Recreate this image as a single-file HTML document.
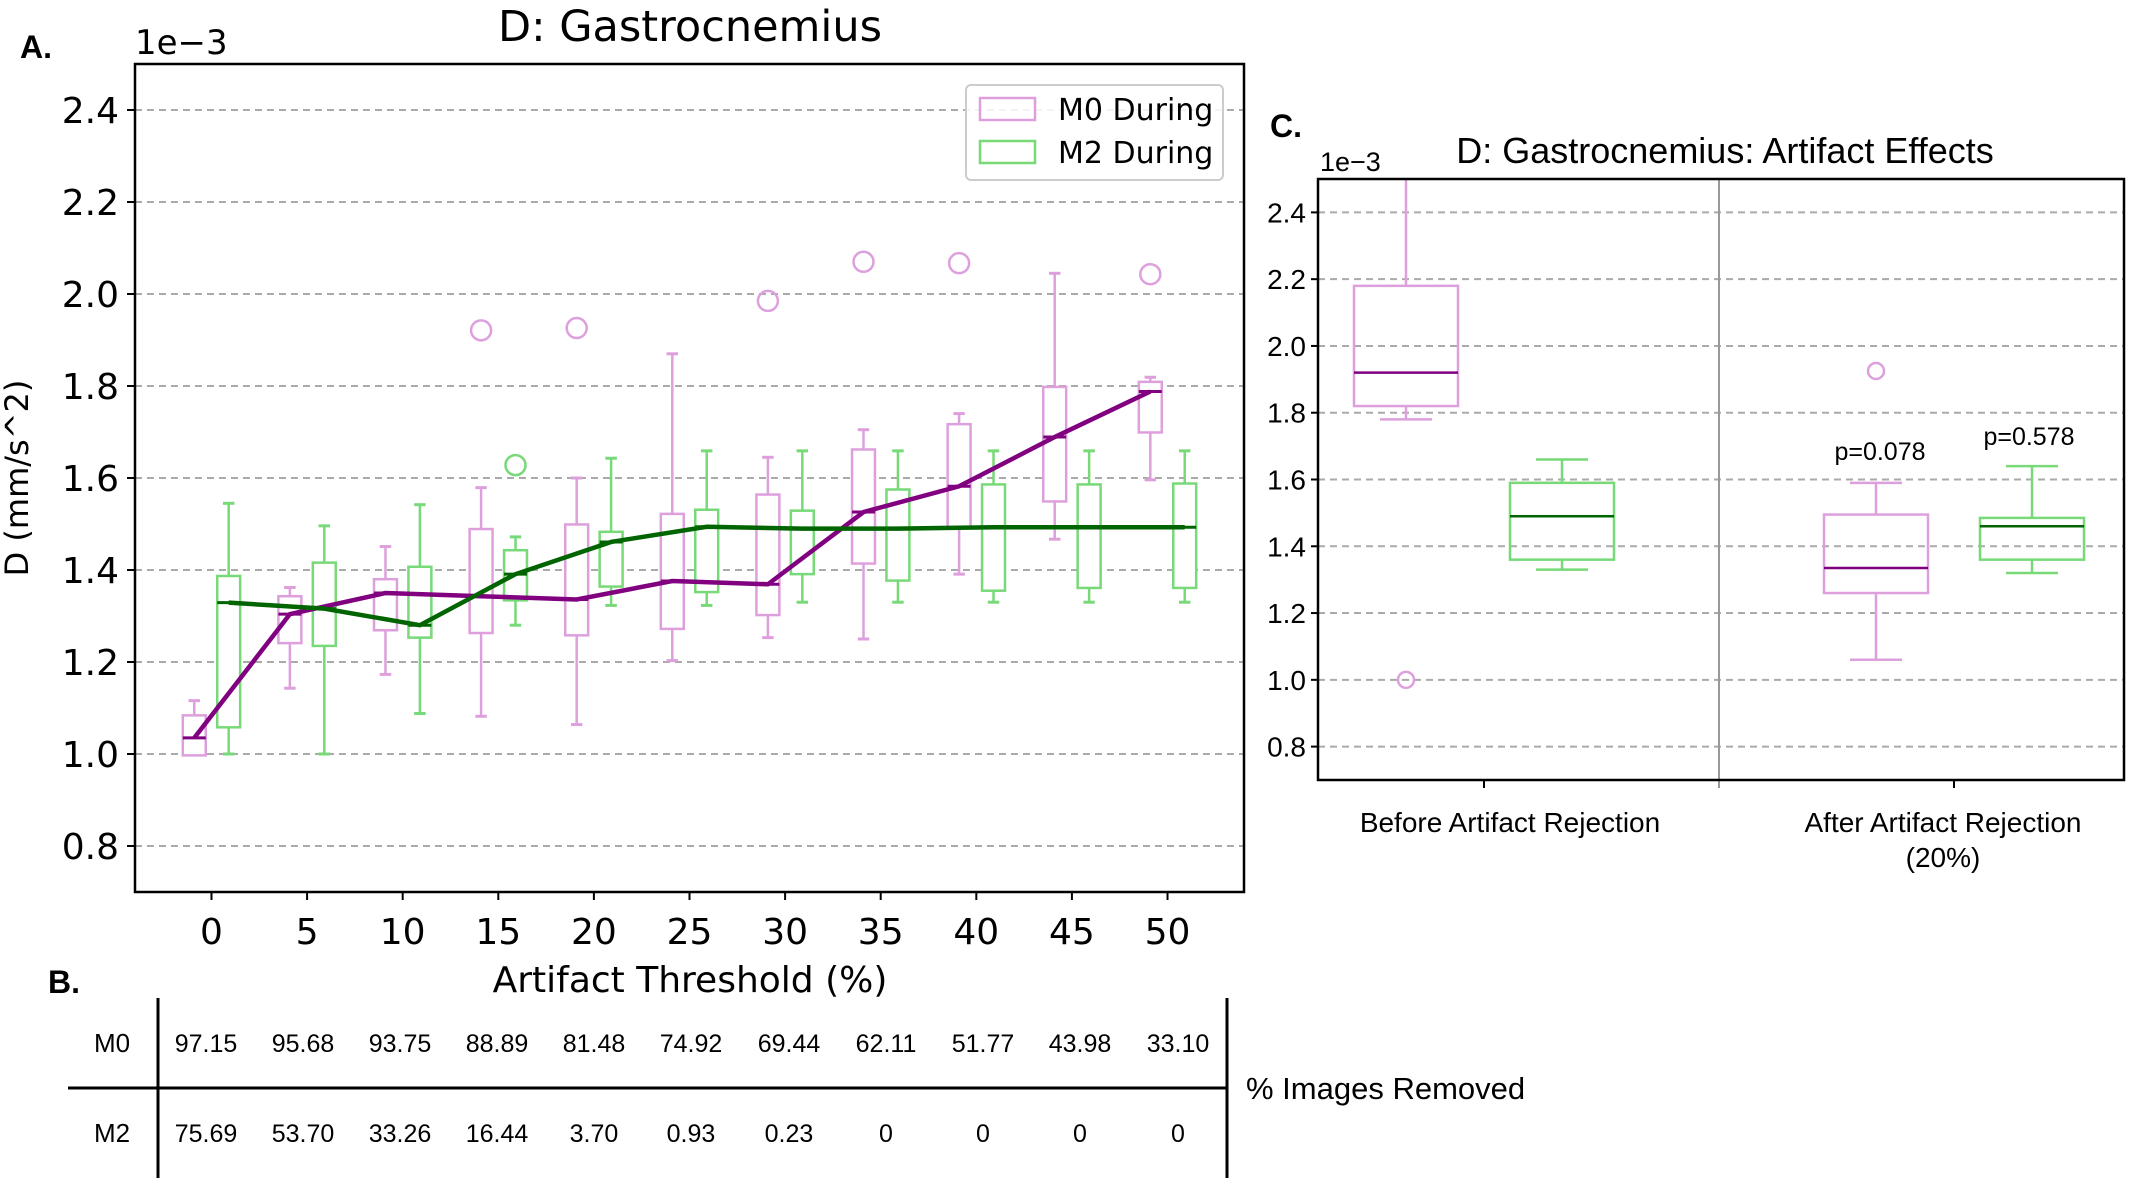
<!DOCTYPE html>
<html><head><meta charset="utf-8"><style>
html,body{margin:0;padding:0;background:#fff;}
svg{display:block;}
.dv{font-family:"DejaVu Sans",sans-serif;}
.ls{font-family:"Liberation Sans",sans-serif;}
</style></head><body>
<svg id="fig" width="2132" height="1186" viewBox="0 0 2132 1186" xmlns="http://www.w3.org/2000/svg">
<g id="pa"></g>
<g id="pc"></g>
<g id="pb"></g>
</svg>
<script>
// ---- Panel A data ----
const thresholds = [0,5,10,15,20,25,30,35,40,45,50];
const m0Low  = [1.0,1.143,1.173,1.082,1.064,1.203,1.253,1.25,1.391,1.467,1.596];
const m0Q1   = [0.997,1.241,1.269,1.263,1.258,1.272,1.302,1.414,1.492,1.549,1.699];
const m0Med  = [1.035,1.304,1.35,1.343,1.336,1.376,1.369,1.526,1.582,1.689,1.788];
const m0Q3   = [1.084,1.343,1.38,1.489,1.499,1.522,1.564,1.662,1.717,1.798,1.809];
const m0High = [1.116,1.362,1.451,1.579,1.6,1.870,1.645,1.705,1.74,2.045,1.819];
const m0OutX = [15,20,30,35,40,50];
const m0OutY = [1.921,1.926,1.985,2.07,2.067,2.043];
const m2Low  = [1.0,1.0,1.088,1.28,1.323,1.323,1.33,1.33,1.33,1.33,1.33];
const m2Q1   = [1.058,1.235,1.253,1.334,1.364,1.352,1.391,1.377,1.355,1.361,1.361];
const m2Med  = [1.329,1.316,1.28,1.391,1.461,1.494,1.49,1.49,1.493,1.493,1.493];
const m2Q3   = [1.387,1.416,1.407,1.443,1.483,1.531,1.529,1.575,1.586,1.586,1.588];
const m2High = [1.545,1.496,1.542,1.472,1.643,1.659,1.659,1.659,1.659,1.659,1.659];
const m2OutX = [15];
const m2OutY = [1.628];
const yTicksA = [0.8,1.0,1.2,1.4,1.6,1.8,2.0,2.2,2.4];
// ---- Panel C data ----
const cGroups = ["Before Artifact Rejection","After Artifact Rejection"];
const cM0 = [[1.78,1.82,1.92,2.18,2.6],[1.06,1.26,1.335,1.495,1.59]];
const cM2 = [[1.33,1.36,1.49,1.59,1.66],[1.32,1.36,1.46,1.485,1.64]];
const cM0Out = [1.0,1.925];
const cPvals = ["p=0.078","p=0.578"];
const cPy = [1.685,1.73];
// ---- Table data ----
const tblM0 = ["97.15","95.68","93.75","88.89","81.48","74.92","69.44","62.11","51.77","43.98","33.10"];
const tblM2 = ["75.69","53.70","33.26","16.44","3.70","0.93","0.23","0","0","0","0"];

const NS="http://www.w3.org/2000/svg";
const LP="#dda0dd", DP="#800080", LG="#77d977", DG="#006400";
function mk(parent,tag,attrs,text){const e=document.createElementNS(NS,tag);for(const k in attrs)e.setAttribute(k,attrs[k]);if(text!==undefined)e.textContent=text;parent.appendChild(e);return e;}

// ===== Panel A =====
const pa=document.getElementById('pa');
const AL=135,AR=1244,AT=64,AB=892;
const ax=v=>AL+(v+4)/58*(AR-AL);
const ay=v=>AB-(v-0.7)/1.8*(AB-AT);
yTicksA.forEach(t=>{
  const l=mk(pa,'line',{x1:AL,x2:AR,y1:ay(t),y2:ay(t),stroke:'#aaa','stroke-width':2,'stroke-dasharray':'7,5'});
  
  
  mk(pa,'line',{x1:AL-8,x2:AL,y1:ay(t),y2:ay(t),stroke:'#000','stroke-width':2});
  const tx=mk(pa,'text',{x:AL-16,y:ay(t)+13,'text-anchor':'end','font-size':36,class:'dv'},t.toFixed(1));
  
  
});
thresholds.forEach(t=>{
  mk(pa,'line',{x1:ax(t),x2:ax(t),y1:AB,y2:AB+8,stroke:'#000','stroke-width':2});
  const tx=mk(pa,'text',{x:ax(t),y:944,'text-anchor':'middle','font-size':36,class:'dv'},String(t));
  
  
});
function boxA(g,cx,lo,q1,md,q3,hi,lc,mc,name){
  const hw=0.6*(ax(1)-ax(0)), cw=0.3*(ax(1)-ax(0));
  const grp=mk(g,'g',{});
  
  
  mk(grp,'line',{x1:cx,x2:cx,y1:ay(q3),y2:ay(hi),stroke:lc,'stroke-width':2.5});
  mk(grp,'line',{x1:cx,x2:cx,y1:ay(q1),y2:ay(lo),stroke:lc,'stroke-width':2.5});
  mk(grp,'line',{x1:cx-cw,x2:cx+cw,y1:ay(hi),y2:ay(hi),stroke:lc,'stroke-width':3});
  mk(grp,'line',{x1:cx-cw,x2:cx+cw,y1:ay(lo),y2:ay(lo),stroke:lc,'stroke-width':3});
  mk(grp,'rect',{x:cx-hw,y:ay(q3),width:2*hw,height:ay(q1)-ay(q3),fill:'#fff',stroke:lc,'stroke-width':2.5});
  mk(grp,'line',{x1:cx-hw,x2:cx+hw,y1:ay(md),y2:ay(md),stroke:mc,'stroke-width':3});
}
thresholds.forEach((t,i)=>{
  boxA(pa,ax(t-0.9),m0Low[i],m0Q1[i],m0Med[i],m0Q3[i],m0High[i],LP,DP,'m0-box-'+t);
  boxA(pa,ax(t+0.9),m2Low[i],m2Q1[i],m2Med[i],m2Q3[i],m2High[i],LG,DG,'m2-box-'+t);
});
m0OutX.forEach((x,i)=>{const c=mk(pa,'circle',{cx:ax(x-0.9),cy:ay(m0OutY[i]),r:10,fill:'none',stroke:LP,'stroke-width':2.5});
  });
m2OutX.forEach((x,i)=>{const c=mk(pa,'circle',{cx:ax(x+0.9),cy:ay(m2OutY[i]),r:10,fill:'none',stroke:LG,'stroke-width':2.5});
  });
const l0=mk(pa,'polyline',{points:thresholds.map((t,i)=>ax(t-0.9)+','+ay(m0Med[i])).join(' '),fill:'none',stroke:DP,'stroke-width':4.5});


const l2=mk(pa,'polyline',{points:thresholds.map((t,i)=>ax(t+0.9)+','+ay(m2Med[i])).join(' '),fill:'none',stroke:DG,'stroke-width':4.5});


mk(pa,'rect',{x:AL,y:AT,width:AR-AL,height:AB-AT,fill:'none',stroke:'#000','stroke-width':2.5});
// legend
const lg=mk(pa,'g',{});


mk(lg,'rect',{x:966,y:85,width:257,height:95,rx:5,fill:'#fff','fill-opacity':0.85,stroke:'#ccc','stroke-width':2});
mk(lg,'rect',{x:980,y:98,width:55,height:22,fill:'none',stroke:LP,'stroke-width':2.5});
mk(lg,'rect',{x:980,y:141,width:55,height:22,fill:'none',stroke:LG,'stroke-width':2.5});
const le1=mk(lg,'text',{x:1058,y:120,'font-size':30,class:'dv'},'M0 During');

const le2=mk(lg,'text',{x:1058,y:163,'font-size':30,class:'dv'},'M2 During');

let t;
t=mk(pa,'text',{x:690,y:41,'text-anchor':'middle','font-size':43,class:'dv'},'D: Gastrocnemius');

t=mk(pa,'text',{x:135,y:54,'font-size':34,class:'dv'},'1e\u22123');

t=mk(pa,'text',{x:690,y:992,'text-anchor':'middle','font-size':36,class:'dv'},'Artifact Threshold (%)');

t=mk(pa,'text',{x:0,y:0,'text-anchor':'middle','font-size':32,class:'dv',transform:'translate(28,478) rotate(-90)'},'D (mm/s^2)');

t=mk(pa,'text',{x:20,y:58,'font-size':32,'font-weight':'bold',class:'ls'},'A.');


// ===== Panel C =====
const pc=document.getElementById('pc');
const CL=1318,CR=2124,CT=179,CB=780;
const cy=v=>CB-(v-0.7)/1.8*(CB-CT);
const cTickX=[1484,1954];
[0.8,1.0,1.2,1.4,1.6,1.8,2.0,2.2,2.4].forEach(v=>{
  const l=mk(pc,'line',{x1:CL,x2:CR,y1:cy(v),y2:cy(v),stroke:'#aaa','stroke-width':2,'stroke-dasharray':'7,5'});
  
  mk(pc,'line',{x1:CL-7,x2:CL,y1:cy(v),y2:cy(v),stroke:'#000','stroke-width':2});
  const tx=mk(pc,'text',{x:CL-12,y:cy(v)+10,'text-anchor':'end','font-size':28,class:'ls'},v.toFixed(1));
  
});
mk(pc,'line',{x1:1719,x2:1719,y1:CT,y2:CB+8,stroke:'#999','stroke-width':2});
const clip=mk(pc,'clipPath',{id:'cclip'});mk(clip,'rect',{x:CL,y:CT,width:CR-CL,height:CB-CT});
const cg=mk(pc,'g',{'clip-path':'url(#cclip)'});
function boxC(cx,v,lc,mc,name){
  const hw=52,cw=26;const [lo,q1,md,q3,hi]=v;
  const grp=mk(cg,'g',{});
  
  mk(grp,'line',{x1:cx,x2:cx,y1:cy(q3),y2:cy(hi),stroke:lc,'stroke-width':2.5});
  mk(grp,'line',{x1:cx,x2:cx,y1:cy(q1),y2:cy(lo),stroke:lc,'stroke-width':2.5});
  mk(grp,'line',{x1:cx-cw,x2:cx+cw,y1:cy(hi),y2:cy(hi),stroke:lc,'stroke-width':2.5});
  mk(grp,'line',{x1:cx-cw,x2:cx+cw,y1:cy(lo),y2:cy(lo),stroke:lc,'stroke-width':2.5});
  mk(grp,'rect',{x:cx-hw,y:cy(q3),width:2*hw,height:cy(q1)-cy(q3),fill:'none',stroke:lc,'stroke-width':2.5});
  mk(grp,'line',{x1:cx-hw,x2:cx+hw,y1:cy(md),y2:cy(md),stroke:mc,'stroke-width':2.5});
}
cGroups.forEach((g,i)=>{
  const tx0=cTickX[i];
  boxC(tx0-78,cM0[i],LP,DP,'c-m0-box-'+i);
  boxC(tx0+78,cM2[i],LG,DG,'c-m2-box-'+i);
  const o=mk(cg,'circle',{cx:tx0-78,cy:cy(cM0Out[i]),r:8,fill:'none',stroke:LP,'stroke-width':2.5});
  
  mk(pc,'line',{x1:tx0,x2:tx0,y1:CB,y2:CB+8,stroke:'#000','stroke-width':2});
});
cPvals.forEach((p,i)=>{
  const tx=mk(pc,'text',{x:i===0?1880:2029,y:cy(cPy[i])+9,'text-anchor':'middle','font-size':25,class:'ls'},p);
  
});
mk(pc,'rect',{x:CL,y:CT,width:CR-CL,height:CB-CT,fill:'none',stroke:'#000','stroke-width':2.5});
t=mk(pc,'text',{x:1510,y:832,'text-anchor':'middle','font-size':28,class:'ls'},cGroups[0]);

t=mk(pc,'text',{x:1943,y:832,'text-anchor':'middle','font-size':28,class:'ls'},cGroups[1]);

t=mk(pc,'text',{x:1943,y:867,'text-anchor':'middle','font-size':28,class:'ls'},'(20%)');

t=mk(pc,'text',{x:1725,y:163,'text-anchor':'middle','font-size':36,class:'ls'},'D: Gastrocnemius: Artifact Effects');

t=mk(pc,'text',{x:1320,y:171,'font-size':27,class:'ls'},'1e\u22123');

t=mk(pc,'text',{x:1270,y:137,'font-size':32,'font-weight':'bold',class:'ls'},'C.');


// ===== Panel B table =====
const pb=document.getElementById('pb');
const colX=[206,303,400,497,594,691,789,886,983,1080,1178];
mk(pb,'line',{x1:158,x2:158,y1:998,y2:1178,stroke:'#000','stroke-width':3});
mk(pb,'line',{x1:1227,x2:1227,y1:998,y2:1178,stroke:'#000','stroke-width':3});
mk(pb,'line',{x1:68,x2:1227,y1:1088,y2:1088,stroke:'#000','stroke-width':3});
t=mk(pb,'text',{x:112,y:1052,'text-anchor':'middle','font-size':26,class:'ls'},'M0');

t=mk(pb,'text',{x:112,y:1142,'text-anchor':'middle','font-size':26,class:'ls'},'M2');

tblM0.forEach((v,i)=>{const c=mk(pb,'text',{x:colX[i],y:1052,'text-anchor':'middle','font-size':25,class:'ls'},v);
  });
tblM2.forEach((v,i)=>{const c=mk(pb,'text',{x:colX[i],y:1142,'text-anchor':'middle','font-size':25,class:'ls'},v);
  });
t=mk(pb,'text',{x:1246,y:1099,'font-size':31,class:'ls'},'% Images Removed');

t=mk(pb,'text',{x:48,y:993,'font-size':32,'font-weight':'bold',class:'ls'},'B.');

</script>
</body></html>
